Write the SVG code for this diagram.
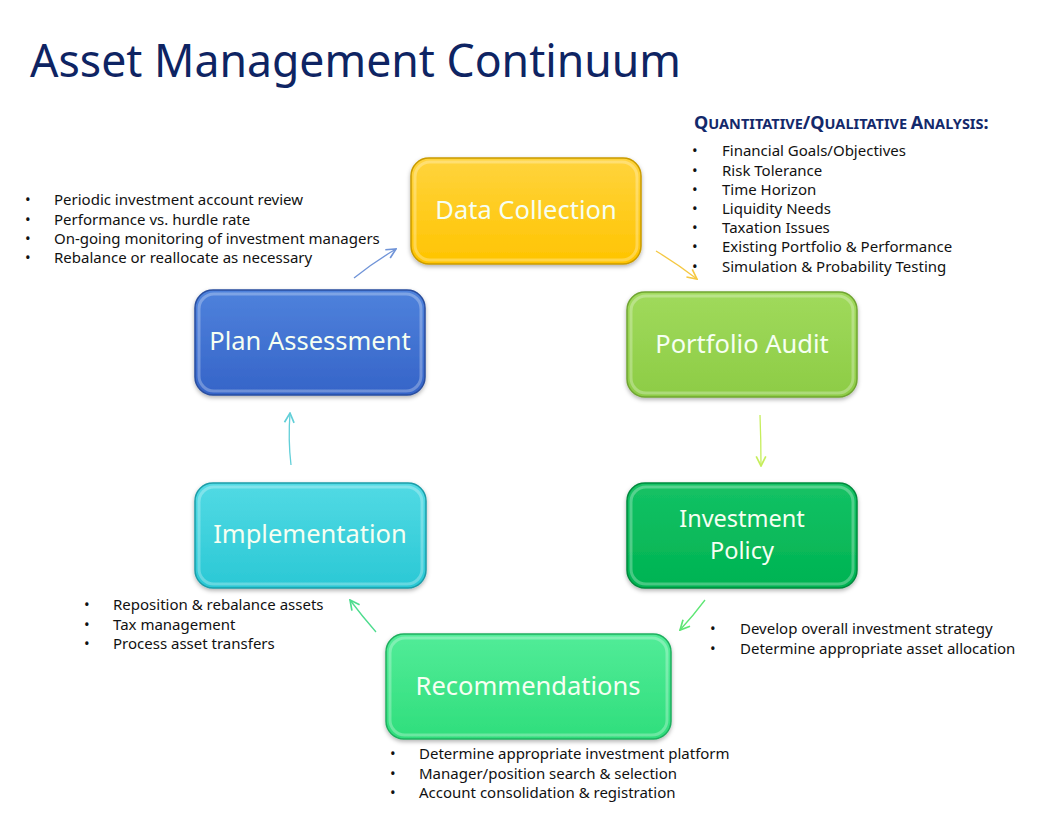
<svg xmlns="http://www.w3.org/2000/svg" width="1056" height="816" viewBox="0 0 1056 816">
<defs>
<style>
.title{font-family:"Noto Sans","Open Sans",sans-serif;font-size:45px;fill:#0E2463}
.lbl{font-family:"Noto Sans","Open Sans",sans-serif;font-size:25.5px;fill:#F6FFF2;text-anchor:middle}
.li{font-family:"Noto Sans","Open Sans",sans-serif;font-size:15px;fill:#111}
.hd{font-family:"Noto Sans","Open Sans",sans-serif;font-weight:bold;fill:#13296B}
.bev{fill:none;stroke:#fff;stroke-opacity:0.28;stroke-width:3}
.con{fill:none;stroke-width:1.3}
</style>
<filter id="sh" x="-10%" y="-10%" width="120%" height="130%">
<feDropShadow dx="0" dy="2" stdDeviation="2" flood-color="#000" flood-opacity="0.3"/>
</filter>
<linearGradient id="gY" x1="0" y1="0" x2="0" y2="1"><stop offset="0" stop-color="#FFD43E"/><stop offset="1" stop-color="#FFC400"/></linearGradient>
<linearGradient id="gPA" x1="0" y1="0" x2="0" y2="1"><stop offset="0" stop-color="#A0DA5C"/><stop offset="1" stop-color="#8DCC45"/></linearGradient>
<linearGradient id="gIP" x1="0" y1="0" x2="0" y2="1"><stop offset="0" stop-color="#14C265"/><stop offset="1" stop-color="#00B352"/></linearGradient>
<linearGradient id="gR" x1="0" y1="0" x2="0" y2="1"><stop offset="0" stop-color="#52EC98"/><stop offset="1" stop-color="#2FDE7C"/></linearGradient>
<linearGradient id="gIm" x1="0" y1="0" x2="0" y2="1"><stop offset="0" stop-color="#52DAE4"/><stop offset="1" stop-color="#2AC8D5"/></linearGradient>
<linearGradient id="gPl" x1="0" y1="0" x2="0" y2="1"><stop offset="0" stop-color="#4F82DC"/><stop offset="1" stop-color="#3564C8"/></linearGradient>
<marker id="aY" viewBox="0 0 10 10" refX="9" refY="5" markerWidth="12" markerHeight="12" markerUnits="userSpaceOnUse" orient="auto"><path d="M1,1 L9,5 L1,9" fill="none" stroke="#F5C842" stroke-width="1.4"/></marker>
<marker id="aYG" viewBox="0 0 10 10" refX="9" refY="5" markerWidth="12" markerHeight="12" markerUnits="userSpaceOnUse" orient="auto"><path d="M1,1 L9,5 L1,9" fill="none" stroke="#C6EE5C" stroke-width="1.4"/></marker>
<marker id="aG" viewBox="0 0 10 10" refX="9" refY="5" markerWidth="12" markerHeight="12" markerUnits="userSpaceOnUse" orient="auto"><path d="M1,1 L9,5 L1,9" fill="none" stroke="#5EE674" stroke-width="1.4"/></marker>
<marker id="aLG" viewBox="0 0 10 10" refX="9" refY="5" markerWidth="12" markerHeight="12" markerUnits="userSpaceOnUse" orient="auto"><path d="M1,1 L9,5 L1,9" fill="none" stroke="#4EDC8E" stroke-width="1.4"/></marker>
<marker id="aC" viewBox="0 0 10 10" refX="9" refY="5" markerWidth="12" markerHeight="12" markerUnits="userSpaceOnUse" orient="auto"><path d="M1,1 L9,5 L1,9" fill="none" stroke="#62CFD8" stroke-width="1.4"/></marker>
<marker id="aB" viewBox="0 0 10 10" refX="9" refY="5" markerWidth="12" markerHeight="12" markerUnits="userSpaceOnUse" orient="auto"><path d="M1,1 L9,5 L1,9" fill="none" stroke="#7094D8" stroke-width="1.4"/></marker>
</defs>
<rect width="1056" height="816" fill="#fff"/>
<text class="title" x="30" y="77" textLength="651" lengthAdjust="spacingAndGlyphs">Asset Management Continuum</text>

<g id="connectors">
<path class="con" stroke="#F5C842" d="M656,251 Q676,263 697,279" marker-end="url(#aY)"/>
<path class="con" stroke="#C6EE5C" d="M760,415 Q761,440 761,466" marker-end="url(#aYG)"/>
<path class="con" stroke="#5EE674" d="M705,600 Q693,616 680,630" marker-end="url(#aG)"/>
<path class="con" stroke="#4EDC8E" d="M376,632 Q362,616 350,600" marker-end="url(#aLG)"/>
<path class="con" stroke="#62CFD8" d="M291,465 Q288,440 290,413" marker-end="url(#aC)"/>
<path class="con" stroke="#7094D8" d="M354,278 Q374,262 396,249" marker-end="url(#aB)"/>
</g>

<g id="node-data-collection">
<rect x="411" y="158" width="230" height="106" rx="18" fill="url(#gY)" stroke="#C99B00" stroke-width="1.5" filter="url(#sh)"/>
<rect class="bev" x="415" y="162" width="222" height="98" rx="15"/>
<text class="lbl" x="526" y="219">Data Collection</text>
</g>

<g id="node-portfolio-audit">
<rect x="627" y="292" width="230" height="105" rx="18" fill="url(#gPA)" stroke="#70A532" stroke-width="1.5" filter="url(#sh)"/>
<rect class="bev" x="631" y="296" width="222" height="97" rx="15"/>
<text class="lbl" x="742" y="353">Portfolio Audit</text>
</g>

<g id="node-investment-policy">
<rect x="627" y="483" width="230" height="105" rx="18" fill="url(#gIP)" stroke="#008A3E" stroke-width="1.5" filter="url(#sh)"/>
<rect class="bev" x="631" y="487" width="222" height="97" rx="15"/>
<text class="lbl" style="font-size:23.5px" x="742" y="527"><tspan x="742" y="527">Investment</tspan><tspan x="742" y="559">Policy</tspan></text>
</g>

<g id="node-recommendations">
<rect x="386" y="634" width="285" height="105" rx="18" fill="url(#gR)" stroke="#1FAF5F" stroke-width="1.5" filter="url(#sh)"/>
<rect class="bev" x="390" y="638" width="277" height="97" rx="15"/>
<text class="lbl" x="528" y="695">Recommendations</text>
</g>

<g id="node-implementation">
<rect x="195" y="483" width="231" height="105" rx="18" fill="url(#gIm)" stroke="#1C9DA8" stroke-width="1.5" filter="url(#sh)"/>
<rect class="bev" x="199" y="487" width="223" height="97" rx="15"/>
<text class="lbl" x="310" y="543">Implementation</text>
</g>

<g id="node-plan-assessment">
<rect x="195" y="290" width="230" height="105" rx="18" fill="url(#gPl)" stroke="#2A4E9E" stroke-width="1.5" filter="url(#sh)"/>
<rect class="bev" x="199" y="294" width="222" height="97" rx="15"/>
<text class="lbl" x="310" y="350">Plan Assessment</text>
</g>

<g id="list-plan-assessment">
<text class="li" x="25" y="205">•</text><text class="li" x="54" y="205">Periodic investment account review</text>
<text class="li" x="25" y="225">•</text><text class="li" x="54" y="225">Performance vs. hurdle rate</text>
<text class="li" x="25" y="244">•</text><text class="li" x="54" y="244">On-going monitoring of investment managers</text>
<text class="li" x="25" y="263">•</text><text class="li" x="54" y="263">Rebalance or reallocate as necessary</text>
</g>

<g id="list-data-collection">
<text class="hd" x="694" y="129"><tspan font-size="18">Q</tspan><tspan font-size="14.5">UANTITATIVE</tspan><tspan font-size="18">/Q</tspan><tspan font-size="14.5">UALITATIVE </tspan><tspan font-size="18">A</tspan><tspan font-size="14.5">NALYSIS</tspan><tspan font-size="18">:</tspan></text>
<text class="li" x="692" y="156">•</text><text class="li" x="722" y="156">Financial Goals/Objectives</text>
<text class="li" x="692" y="176">•</text><text class="li" x="722" y="176">Risk Tolerance</text>
<text class="li" x="692" y="195">•</text><text class="li" x="722" y="195">Time Horizon</text>
<text class="li" x="692" y="214">•</text><text class="li" x="722" y="214">Liquidity Needs</text>
<text class="li" x="692" y="233">•</text><text class="li" x="722" y="233">Taxation Issues</text>
<text class="li" x="692" y="252">•</text><text class="li" x="722" y="252">Existing Portfolio &amp; Performance</text>
<text class="li" x="692" y="272">•</text><text class="li" x="722" y="272">Simulation &amp; Probability Testing</text>
</g>

<g id="list-investment-policy">
<text class="li" x="710" y="634">•</text><text class="li" x="740" y="634">Develop overall investment strategy</text>
<text class="li" x="710" y="654">•</text><text class="li" x="740" y="654">Determine appropriate asset allocation</text>
</g>

<g id="list-recommendations">
<text class="li" x="390" y="759">•</text><text class="li" x="419" y="759">Determine appropriate investment platform</text>
<text class="li" x="390" y="779">•</text><text class="li" x="419" y="779">Manager/position search &amp; selection</text>
<text class="li" x="390" y="798">•</text><text class="li" x="419" y="798">Account consolidation &amp; registration</text>
</g>

<g id="list-implementation">
<text class="li" x="84" y="610">•</text><text class="li" x="113" y="610">Reposition &amp; rebalance assets</text>
<text class="li" x="84" y="630">•</text><text class="li" x="113" y="630">Tax management</text>
<text class="li" x="84" y="649">•</text><text class="li" x="113" y="649">Process asset transfers</text>
</g>
</svg>
